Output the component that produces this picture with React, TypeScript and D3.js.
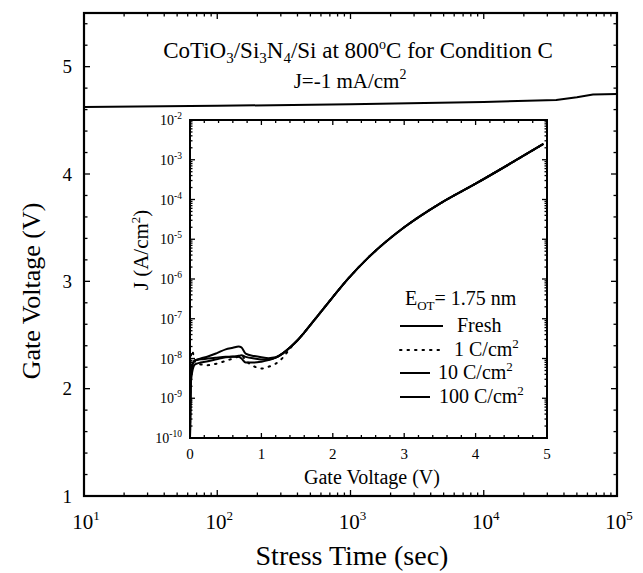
import React from "react";
import * as d3 from "d3";

// main plot: gate voltage vs stress time
const stressTime = [10, 100, 1000, 10000, 35000, 50000, 66000, 100000];
const gateVoltage = [4.625, 4.635, 4.65, 4.67, 4.69, 4.715, 4.74, 4.745];
const mainYTicks = [1, 2, 3, 4, 5];
const mainXDecades = [1, 2, 3, 4, 5];

// inset: J-V curves
const biasV = [0, 0.01, 0.03, 0.07, 0.15, 0.25, 0.37, 0.5, 0.6, 0.68, 0.72, 0.78, 0.9, 1.0, 1.1, 1.2, 1.3, 1.4, 1.5, 1.6, 1.8, 2.0, 2.2, 2.5, 3.0, 3.5, 4.0, 4.5, 4.95];
const jFresh = [1e-10, 2.0e-9, 4.5e-9, 7.1e-9, 7.9e-9, 8.5e-9, 9.5e-9, 1.07e-8, 1.1e-8, 1.1e-8, 1.0e-8, 7.9e-9, 7.9e-9, 8.3e-9, 9.1e-9, 1.05e-8, 1.35e-8, 1.9e-8, 2.8e-8, 4.5e-8, 1.26e-7, 3.5e-7, 9.5e-7, 3.5e-6, 2.0e-5, 7.9e-5, 2.5e-4, 8.3e-4, 2.5e-3];
const j1C = [1e-10, 1.0e-8, 1.58e-8, 8.3e-9, 7.1e-9, 6.8e-9, 7.4e-9, 8.7e-9, 1.0e-8, 1.12e-8, 1.2e-8, 8.9e-9, 6.3e-9, 5.6e-9, 6.2e-9, 7.4e-9, 1.05e-8, 1.78e-8, 2.8e-8, 4.5e-8, 1.26e-7, 3.5e-7, 9.5e-7, 3.5e-6, 2.0e-5, 7.9e-5, 2.5e-4, 8.3e-4, 2.5e-3];
const j10C = [1e-10, 3.2e-9, 7.1e-9, 8.9e-9, 1.0e-8, 1.12e-8, 1.35e-8, 1.7e-8, 1.86e-8, 2.0e-8, 1.9e-8, 1.32e-8, 1.15e-8, 1.07e-8, 1.02e-8, 1.07e-8, 1.35e-8, 1.9e-8, 2.8e-8, 4.5e-8, 1.26e-7, 3.5e-7, 9.5e-7, 3.5e-6, 2.0e-5, 7.9e-5, 2.5e-4, 8.3e-4, 2.5e-3];
const j100C = [1e-10, 2.5e-9, 6.3e-9, 8.9e-9, 9.5e-9, 1.0e-8, 1.05e-8, 1.1e-8, 1.12e-8, 1.17e-8, 1.2e-8, 1.1e-8, 1.0e-8, 9.5e-9, 9.5e-9, 1.05e-8, 1.35e-8, 1.9e-8, 2.8e-8, 4.5e-8, 1.26e-7, 3.5e-7, 9.5e-7, 3.5e-6, 2.0e-5, 7.9e-5, 2.5e-4, 8.3e-4, 2.5e-3];
const insetXTicks = [0, 1, 2, 3, 4, 5];
const insetYDecades = [-10, -9, -8, -7, -6, -5, -4, -3, -2];
const legendNames = ["Fresh", "1 C/cm", "10 C/cm", "100 C/cm"];

const font = "'Liberation Serif', 'Times New Roman', serif";

export default function App() {
  const W = 643, H = 573;
  const m = { left: 84, right: 617, top: 13, bottom: 496 };
  const x = d3.scaleLog().domain([10, 1e5]).range([m.left, m.right]);
  const y = d3.scaleLinear().domain([1, 5.5]).range([m.bottom, m.top]);

  const ins = { left: 190, right: 547, top: 120, bottom: 438 };
  const ix = d3.scaleLinear().domain([0, 5]).range([ins.left, ins.right]);
  const iy = d3.scaleLog().domain([1e-10, 1e-2]).range([ins.bottom, ins.top]);

  const mainLine = d3
    .line<number>()
    .x((d, i) => x(stressTime[i]))
    .y((d) => y(d));

  const jvLine = d3
    .line<number>()
    .x((d, i) => ix(biasV[i]))
    .y((d) => iy(d))
    .curve(d3.curveMonotoneX);

  const series = [
    { data: jFresh, dash: "none", len: 43, tx: 457 },
    { data: j1C, dash: "1.5,6", len: 42, tx: 454 },
    { data: j10C, dash: "none", len: 30, tx: 438 },
    { data: j100C, dash: "none", len: 30, tx: 439 },
  ];
  const legendY = [326, 350, 373, 397];

  // tick lists
  const xMinor: number[] = [];
  mainXDecades.slice(0, 4).forEach((p) => {
    for (let k = 2; k <= 9; k++) xMinor.push(k * Math.pow(10, p));
  });
  const yMinor = d3.range(1.2, 5.5, 0.2).filter((v) => Math.abs(v - Math.round(v)) > 0.01);
  const iyMinor: number[] = [];
  insetYDecades.slice(0, 8).forEach((p) => {
    for (let k = 2; k <= 9; k++) iyMinor.push(k * Math.pow(10, p));
  });
  const ixMinor = d3.range(0.2, 5, 0.2).filter((v) => Math.abs(v - Math.round(v)) > 0.01);

  const tk = { stroke: "#000", strokeWidth: 1.3 };

  return (
    <div style={{ position: "absolute", left: 0, top: 0 }}>
      <svg width={W} height={H} style={{ display: "block", background: "#fff" }} fontFamily={font}>
        {/* main frame */}
        <rect x={m.left} y={m.top} width={m.right - m.left} height={m.bottom - m.top} fill="none" stroke="#000" strokeWidth={2.2} />

        {/* main x ticks */}
        {mainXDecades.map((p) => {
          const xx = x(Math.pow(10, p));
          return (
            <g key={"mx" + p}>
              <line x1={xx} x2={xx} y1={m.bottom} y2={m.bottom - 6} {...tk} />
              <line x1={xx} x2={xx} y1={m.top} y2={m.top + 6} {...tk} />
              <text x={xx + 2} y={529} textAnchor="middle" fontSize={21}>
                10<tspan dy={-9} fontSize={13}>{p}</tspan>
              </text>
            </g>
          );
        })}
        {xMinor.map((v, i) => (
          <g key={"mxm" + i}>
            <line x1={x(v)} x2={x(v)} y1={m.bottom} y2={m.bottom - 3.5} {...tk} />
            <line x1={x(v)} x2={x(v)} y1={m.top} y2={m.top + 3.5} {...tk} />
          </g>
        ))}

        {/* main y ticks */}
        {mainYTicks.map((v) => (
          <g key={"my" + v}>
            <line x1={m.left} x2={m.left + 6} y1={y(v)} y2={y(v)} {...tk} />
            <line x1={m.right} x2={m.right - 6} y1={y(v)} y2={y(v)} {...tk} />
            <text x={72} y={y(v)} dy="0.35em" textAnchor="end" fontSize={19}>
              {v}
            </text>
          </g>
        ))}
        {yMinor.map((v, i) => (
          <g key={"mym" + i}>
            <line x1={m.left} x2={m.left + 3.5} y1={y(v)} y2={y(v)} {...tk} />
            <line x1={m.right} x2={m.right - 3.5} y1={y(v)} y2={y(v)} {...tk} />
          </g>
        ))}

        {/* main axis titles */}
        <text x={352} y={565} textAnchor="middle" fontSize={28}>
          Stress Time (sec)
        </text>
        <text transform={`translate(40, ${291}) rotate(-90)`} textAnchor="middle" fontSize={26}>
          Gate Voltage (V)
        </text>

        {/* main data */}
        <path d={mainLine(gateVoltage) || ""} fill="none" stroke="#000" strokeWidth={2} />

        {/* title */}
        <text x={358} y={58} textAnchor="middle" fontSize={23}>
          CoTiO<tspan dy={5} fontSize={15}>3</tspan>
          <tspan dy={-5}>/Si</tspan>
          <tspan dy={5} fontSize={15}>3</tspan>
          <tspan dy={-5}>N</tspan>
          <tspan dy={5} fontSize={15}>4</tspan>
          <tspan dy={-5}>/Si at 800</tspan>
          <tspan dy={-9} fontSize={14}>o</tspan>
          <tspan dy={9}>C for Condition C</tspan>
        </text>
        <text x={350} y={88} textAnchor="middle" fontSize={21}>
          J=-1 mA/cm<tspan dy={-9} fontSize={14}>2</tspan>
        </text>

        {/* inset */}
        <rect x={ins.left} y={ins.top} width={ins.right - ins.left} height={ins.bottom - ins.top} fill="#fff" stroke="#000" strokeWidth={2} />
        {insetXTicks.map((v) => (
          <g key={"ix" + v}>
            <line x1={ix(v)} x2={ix(v)} y1={ins.bottom} y2={ins.bottom - 5} {...tk} />
            <line x1={ix(v)} x2={ix(v)} y1={ins.top} y2={ins.top + 5} {...tk} />
            <text x={ix(v)} y={459} textAnchor="middle" fontSize={15}>
              {v}
            </text>
          </g>
        ))}
        {ixMinor.map((v, i) => (
          <g key={"ixm" + i}>
            <line x1={ix(v)} x2={ix(v)} y1={ins.bottom} y2={ins.bottom - 3} {...tk} />
            <line x1={ix(v)} x2={ix(v)} y1={ins.top} y2={ins.top + 3} {...tk} />
          </g>
        ))}
        {insetYDecades.map((p) => {
          const yy = iy(Math.pow(10, p));
          return (
            <g key={"iy" + p}>
              <line x1={ins.left} x2={ins.left + 5} y1={yy} y2={yy} {...tk} />
              <line x1={ins.right} x2={ins.right - 5} y1={yy} y2={yy} {...tk} />
              <text x={182} y={yy + 5} textAnchor="end" fontSize={14}>
                10<tspan dy={-6} fontSize={9.5}>{p}</tspan>
              </text>
            </g>
          );
        })}
        {iyMinor.map((v, i) => (
          <g key={"iym" + i}>
            <line x1={ins.left} x2={ins.left + 2.5} y1={iy(v)} y2={iy(v)} {...tk} />
            <line x1={ins.right} x2={ins.right - 2.5} y1={iy(v)} y2={iy(v)} {...tk} />
          </g>
        ))}
        <text x={372} y={484} textAnchor="middle" fontSize={20}>
          Gate Voltage (V)
        </text>
        <text transform={`translate(148, ${250}) rotate(-90)`} textAnchor="middle" fontSize={21}>
          J (A/cm<tspan dy={-8} fontSize={13}>2</tspan>
          <tspan dy={8}>)</tspan>
        </text>

        {series.map((s, i) => (
          <path
            key={"s" + i}
            d={jvLine(s.data) || ""}
            fill="none"
            stroke="#000"
            strokeWidth={2}
            strokeDasharray={s.dash}
            strokeLinecap={s.dash === "none" ? "butt" : "round"}
          />
        ))}

        {/* legend */}
        <text x={405} y={305} fontSize={20}>
          E<tspan dy={5} fontSize={13}>OT</tspan>
          <tspan dy={-5}>= 1.75 nm</tspan>
        </text>
        {legendNames.map((name, i) => {
          const ly = legendY[i];
          const s = series[i];
          return (
            <g key={"lg" + i}>
              <line
                x1={400}
                x2={400 + s.len}
                y1={ly}
                y2={ly}
                stroke="#000"
                strokeWidth={2}
                strokeDasharray={s.dash}
                strokeLinecap={s.dash === "none" ? "butt" : "round"}
              />
              <text x={s.tx} y={ly + 6} fontSize={20}>
                {name}
                {i > 0 && <tspan dy={-8} fontSize={13}>2</tspan>}
              </text>
            </g>
          );
        })}
      </svg>
    </div>
  );
}
